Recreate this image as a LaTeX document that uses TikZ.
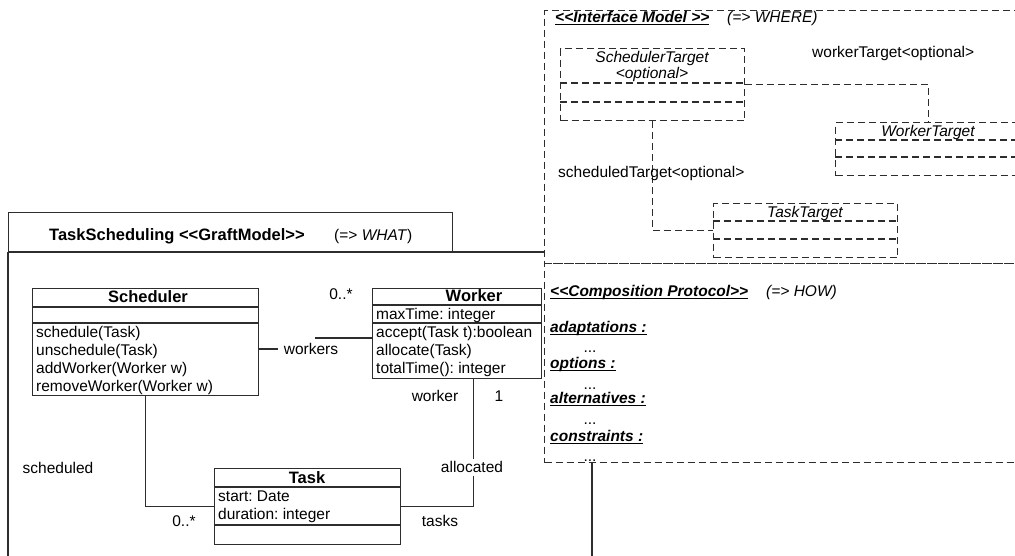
\documentclass[tikz,border=0pt]{standalone}
\usepackage{fontspec}
\setmainfont{Liberation Sans}
\definecolor{lc}{RGB}{45,45,45}
\newcommand\LL{<\kern0pt<}
\newcommand\RR{>\kern0pt>}
\newcommand\myul[1]{\setbox0\hbox{#1}\rlap{\rule[-2.8pt]{\wd0}{1.3pt}}\box0}
\frenchspacing
\begin{document}
\begin{tikzpicture}[x=1pt,y=-1pt,
  font=\fontsize{15.5}{18}\selectfont,
  ln/.style={draw=lc, line width=1.3pt},
  cls/.style={ln, fill=white, inner sep=0pt, anchor=north west},
  dbox/.style={draw=lc, line width=1.3pt, dash pattern=on 7pt off 4pt, inner sep=0pt, anchor=north west},
  dln/.style={draw=lc, line width=1.3pt, dash pattern=on 7pt off 4pt},
  lt/.style={inner sep=0pt, anchor=west, text height=11pt, text depth=0pt},
  ct/.style={inner sep=0pt, text height=11pt, text depth=0pt},
  lab/.style={ct, fill=white, inner xsep=2pt, inner ysep=3pt},
]
\useasboundingbox (0,0) rectangle (1015,555);
\fill[white] (0,0) rectangle (1015,555);
\clip (0,0) rectangle (1015,555);

% ---------- package TaskScheduling ----------
\node[cls, minimum width=444pt, minimum height=40pt] (pkgtab) at (8,212) {};
\draw[ln] (8,252) -- (544,252);
\draw[ln] (8,252) -- (8,560);
\node[lt] (pkgname) at (49,235) {\bfseries\fontsize{16.5}{18}\selectfont TaskScheduling \LL GraftModel\RR};
\node[lt] (pkgwhat) at (334,235) {(=> \textit{WHAT})};

% ---------- interface model ----------
\node[dbox, minimum width=480pt, minimum height=253pt] (ifm) at (544,10) {};
\node[lt] (ifmname) at (555,17) {\bfseries\itshape\myul{\LL Interface Model \RR}};
\node[lt] (ifmwhere) at (727,17) {\itshape (=> WHERE)};

\node[dbox, minimum width=184pt, minimum height=72pt] (st) at (560,48) {};
\draw[dln] (560,83) -- (744,83);
\draw[dln] (560,102) -- (744,102);
\node[ct] (stname) at (652,57) {\itshape SchedulerTarget};
\node[ct] (stopt) at (652,73) {\itshape <optional>};

\node[dbox, minimum width=186pt, minimum height=53pt] (wt) at (835,122) {};
\draw[dln] (835,140) -- (1021,140);
\draw[dln] (835,157) -- (1021,157);
\node[ct] (wtname) at (928,131) {\itshape WorkerTarget};

\node[dbox, minimum width=184pt, minimum height=54pt] (tt) at (713,203) {};
\draw[dln] (713,221) -- (897,221);
\draw[dln] (713,239) -- (897,239);
\node[ct] (ttname) at (805,212) {\itshape TaskTarget};

\draw[dln] (st.east) -| (wt.north);
\draw[dln] (st.south) |- (tt.west);
\node[lt] (wtlab) at (812,52) {workerTarget<optional>};
\node[lt] (stlab) at (558,172) {scheduledTarget<optional>};

% ---------- composition protocol ----------
\node[dbox, minimum width=480pt, minimum height=199pt] (cpb) at (544,263) {};
\node[lt] (cpname) at (550,291) {\bfseries\itshape\myul{\LL Composition Protocol\RR}};
\node[lt] (cphow) at (766,291) {\itshape (=> HOW)};
\node[lt] (adapt) at (550,327) {\bfseries\itshape\myul{adaptations :}};
\node[ct] (d1) at (590,347) {...};
\node[lt] (opts) at (550,363) {\bfseries\itshape\myul{options :}};
\node[ct] (d2) at (590,384) {...};
\node[lt] (alts) at (550,398) {\bfseries\itshape\myul{alternatives :}};
\node[ct] (d3) at (590,419) {...};
\node[lt] (cons) at (550,436) {\bfseries\itshape\myul{constraints :}};
\node[ct] (d4) at (590,456) {...};
\coordinate (cpend) at (592,560);
\draw[ln] (cpend |- cpb.south) -- (cpend);

% ---------- classes ----------
\node[cls, minimum width=226pt, minimum height=107pt] (sched) at (32,288) {};
\draw[ln] (32,307) -- (258,307);
\draw[ln] (32,323) -- (258,323);
\node[ct] (schedname) at (148,297) {\bfseries\fontsize{16.5}{18}\selectfont Scheduler};
\node[lt] (m1) at (36,332) {schedule(Task)};
\node[lt] (m2) at (36,350) {unschedule(Task)};
\node[lt] (m3) at (36,368) {addWorker(Worker w)};
\node[lt] (m4) at (36,386) {removeWorker(Worker w)};

\node[cls, minimum width=169pt, minimum height=90pt] (wk) at (372,288) {};
\draw[ln] (372,305) -- (541,305);
\draw[ln] (372,323) -- (541,323);
\node[ct] (wkname) at (474,296) {\bfseries\fontsize{16.5}{18}\selectfont Worker};
\node[lt] (a1) at (376,314) {maxTime: integer};
\node[lt] (w1) at (376,332) {accept(Task t):boolean};
\node[lt] (w2) at (376,350) {allocate(Task)};
\node[lt] (w3) at (376,368) {totalTime(): integer};

\node[cls, minimum width=186pt, minimum height=76pt] (task) at (214,468) {};
\draw[ln] (214,487) -- (400,487);
\draw[ln] (214,525) -- (400,525);
\node[ct] (taskname) at (307,478) {\bfseries\fontsize{16.5}{18}\selectfont Task};
\node[lt] (t1) at (218,496) {start: Date};
\node[lt] (t2) at (218,514) {duration: integer};

% ---------- associations ----------
\node[ct] (wlab) at (311,349) {workers};
\draw[ln] (sched.east |- wlab) -- ++(19,0);
\coordinate (wjoin) at (315,338);
\draw[ln] (wjoin) -- (wjoin -| wk.west);
\node[ct] (wmult) at (341,294) {0..*};

\draw[ln] (sched.south) |- (task.west);
\node[ct] (slab) at (58,468) {scheduled};
\node[ct] (smult) at (184,521) {0..*};

\draw[ln] (task.east) -| ([xshift=16.5pt]wk.south);
\node[lab] (alab) at (472,467) {allocated};
\node[ct] (tlab) at (440,521) {tasks};
\node[ct] (wklab) at (435,396) {worker};
\node[ct] (wk1) at (499,396) {1};
\end{tikzpicture}
\end{document}
